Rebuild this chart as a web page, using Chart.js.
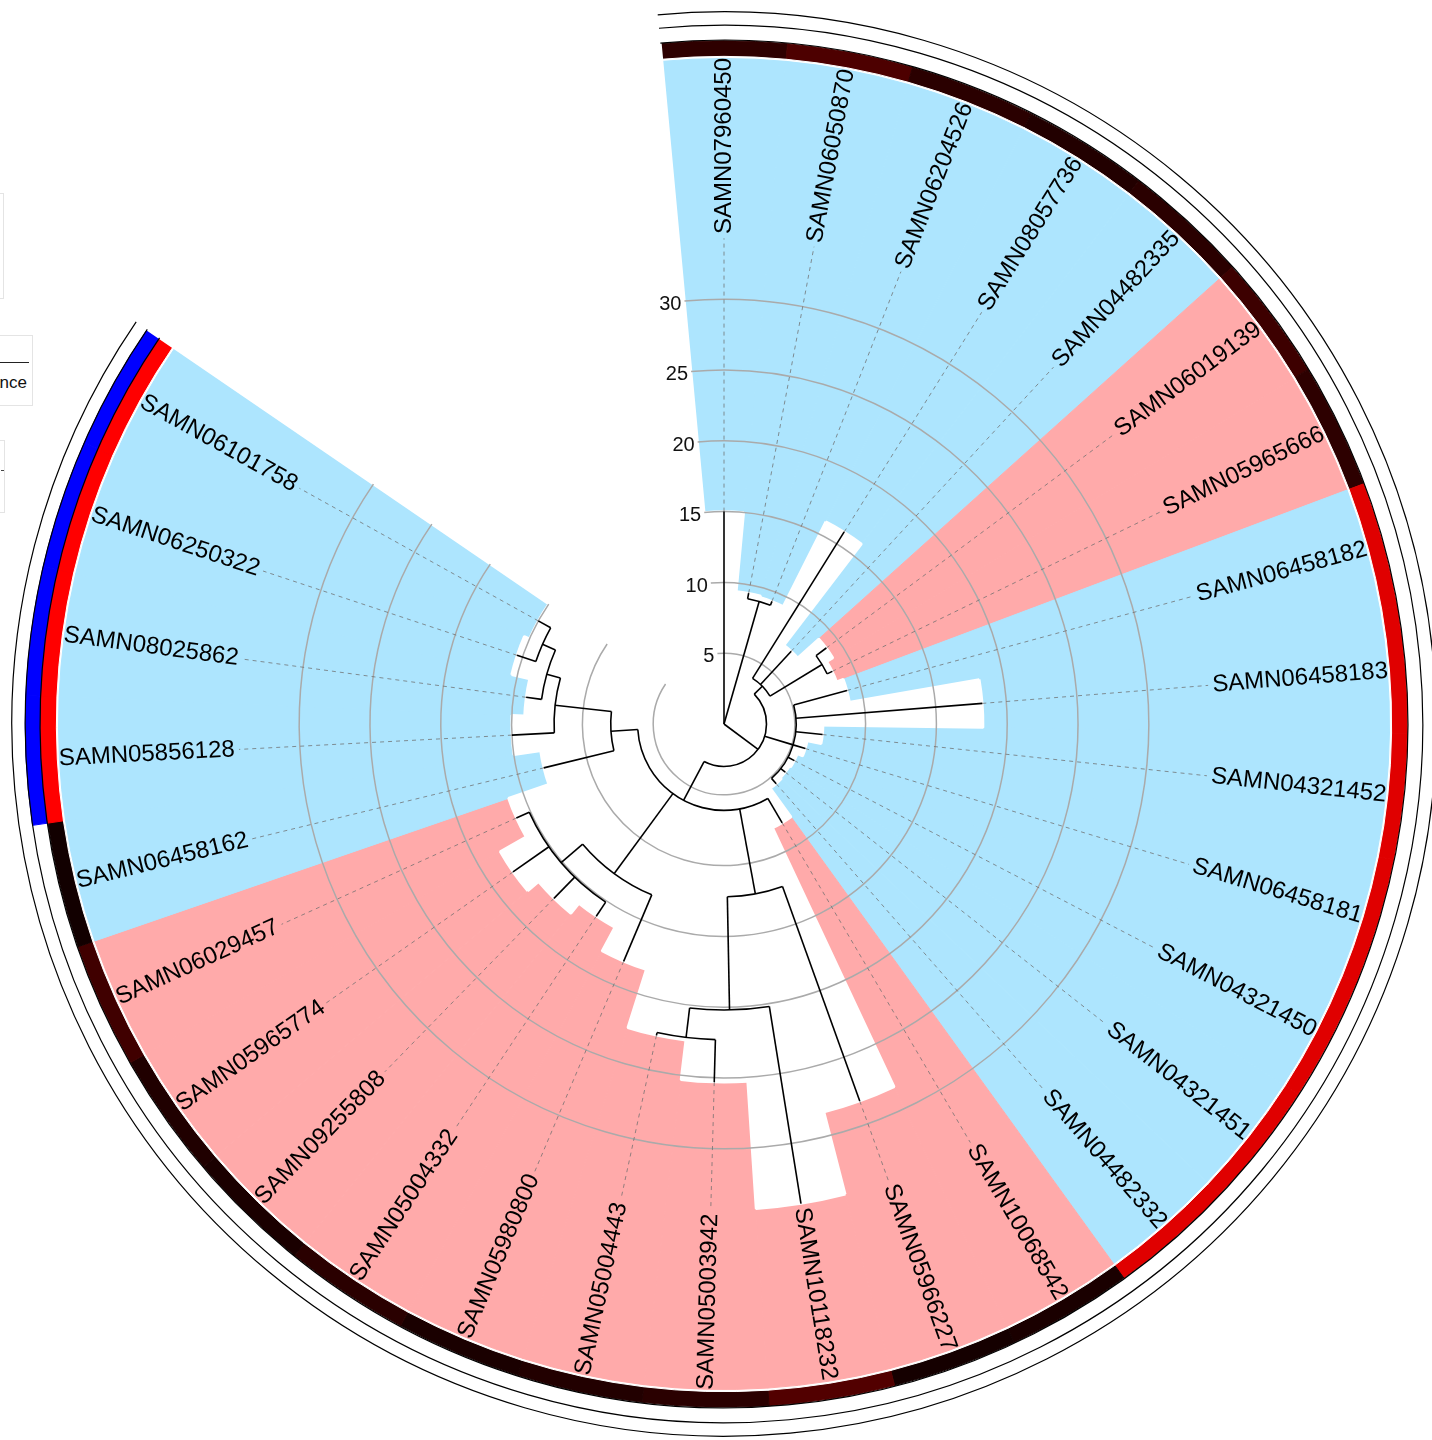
<!DOCTYPE html>
<html>
<head>
<meta charset="utf-8">
<title>Circular tree</title>
<script src="https://cdn.jsdelivr.net/npm/chart.js@4.4.1/dist/chart.umd.min.js"></script>
<style>
  html, body { margin: 0; padding: 0; background: #fff; overflow: hidden; }
  #wrap { position: relative; width: 1432px; height: 1440px; }
  #tree { position: absolute; left: 0; top: 0; }
  .legend-box {
    position: absolute;
    border: 1px solid #e4e4e4;
    background: #fff;
    font-family: "Liberation Sans", Arial, sans-serif;
  }
</style>
</head>
<body>
<div id="wrap">
  <canvas id="tree" width="1432" height="1440"></canvas>
  <div class="legend-box" style="left:-200px;top:193px;width:202px;height:104px"></div>
  <div class="legend-box" style="left:-160px;top:335px;width:191px;height:69px">
    <div style="position:absolute;left:0;right:3px;top:26px;border-top:1px solid #222"></div>
    <div style="position:absolute;right:5px;top:37px;font-size:17px;color:#111;white-space:nowrap">Tree distance</div>
  </div>
  <div class="legend-box" style="left:-160px;top:440px;width:163px;height:71px">
    <div style="position:absolute;right:0;top:29px;width:3px;border-top:1px solid #444"></div>
  </div>
</div>
<script>
const sampleNames = [
  "SAMN07960450", "SAMN06050870", "SAMN06204526", "SAMN08057736", "SAMN04482335",
  "SAMN06019139", "SAMN05965666", "SAMN06458182", "SAMN06458183", "SAMN04321452",
  "SAMN06458181", "SAMN04321450", "SAMN04321451", "SAMN04482332", "SAMN10068542",
  "SAMN05966227", "SAMN10118232", "SAMN05003942", "SAMN05004443", "SAMN05980800",
  "SAMN05004332", "SAMN09255808", "SAMN05965774", "SAMN06029457", "SAMN06458162",
  "SAMN05856128", "SAMN08025862", "SAMN06250322", "SAMN06101758",
];
const sampleGroup = [
  "b", "b", "b", "b", "b", "p", "p", "b", "b", "b", "b", "b", "b", "b", "p",
  "p", "p", "p", "p", "p", "p", "p", "p", "p", "b", "b", "b", "b", "b",
];
// branch tip of each sample, in tree distance units
const tipDepth = [
  15.0, 9.4, 9.3, 16.0, 7.0, 9.0, 8.5, 9.0, 18.3, 7.0, 6.0, 5.6, 5.5, 5.6, 8.1,
  28.3, 34.3, 25.3, 22.5, 18.2, 16.3, 17.2, 18.2, 16.1, 13.1, 15.0, 14.1, 15.4, 15.0,
];
const leafParent = [
  "root", "N23", "N23", "B", "B", "N67", "N67", "D", "D", "D", "D", "D", "D", "D", "C",
  "G", "I", "J", "J", "H", "K", "K", "K", "K", "F", "L", "M", "N", "N",
];
const nodeNames = ["root", "N23", "A", "B", "N67", "D", "C", "G", "I", "J", "H", "K", "F", "L", "M", "N"];
const nodeParent = [null, "root", "root", "A", "B", "A", "A", "C", "G", "I", "C", "H", "C", "F", "L", "M"];
const nodeDepth = [0, 9.0, 3.0, 3.8, 8.1, 5.1, 6.1, 12.2, 20.2, 22.3, 13.1, 15.1, 8.0, 12.0, 13.0, 14.0];

const ringOneColors = [
  "#2e0000", "#4d0000", "#2a0000", "#220000", "#2a0000", "#3d0000", "#2d0000",
  "#e00000", "#e00000", "#e00000", "#e00000", "#e00000", "#e00000", "#e00000",
  "#1a0000", "#150000", "#520000", "#2a0000", "#220000", "#1a0000", "#2a0000",
  "#1a0000", "#200000", "#400000", "#120000",
  "#ff0000", "#ff0000", "#ff0000", "#ff0000",
];
const ringTwoColors = [
  ...Array(25).fill("rgba(0,0,0,0)"),
  "#0000ff", "#0000ff", "#0000ff", "#0000ff",
];
const tickValues = [5, 10, 15, 20, 25, 30];

const GROUP_COLORS = { b: "#ade5fe", p: "#ffaaaa" };
const CLEAR = "rgba(0,0,0,0)";
const LEAF_STEP = 10.68;
const GAP_INDEX = sampleNames.length;
const GAP_COVER = 51;
const SECTOR_OUTER = 47.0;
const WHITE_GAP = 47.15;
const RING_ONE = 48.25;
const RING_TWO = 49.35;
const LABEL_R = 34.6;
const FONT = '"Liberation Sans", Arial, sans-serif';

const withGap = (arr, last) => [...arr, last];
const filled = (v) => withGap(sampleNames.map(() => v), 0);

const treeLayers = {
  id: "treeLayers",
  afterDatasetsDraw(chart) {
    const ctx = chart.ctx;
    const scale = chart.scales.r;
    const cx = scale.xCenter;
    const cy = scale.yCenter;
    const rad = (v) => scale.getDistanceFromCenterForValue(v);
    const arcs = chart.getDatasetMeta(0).data;
    const leafAngle = sampleNames.map((_, i) => (arcs[i].startAngle + arcs[i].endAngle) / 2);
    const spanStart = arcs[0].startAngle;
    const spanEnd = arcs[GAP_INDEX - 1].endAngle;

    ctx.save();

    // grid circles, only over the samples
    ctx.strokeStyle = "#aaaaaa";
    ctx.lineWidth = 1.5;
    scale.ticks.forEach((t) => {
      ctx.beginPath();
      ctx.arc(cx, cy, rad(t.value), spanStart, spanEnd);
      ctx.stroke();
    });

    // dashed leaders from branch tip to label
    ctx.strokeStyle = "rgba(110,110,110,0.75)";
    ctx.lineWidth = 1;
    ctx.setLineDash([4, 4]);
    sampleNames.forEach((_, i) => {
      const a = leafAngle[i];
      const r0 = rad(tipDepth[i]);
      const r1 = rad(LABEL_R - 0.3);
      if (r1 <= r0) return;
      ctx.beginPath();
      ctx.moveTo(cx + r0 * Math.cos(a), cy + r0 * Math.sin(a));
      ctx.lineTo(cx + r1 * Math.cos(a), cy + r1 * Math.sin(a));
      ctx.stroke();
    });
    ctx.setLineDash([]);

    // dendrogram
    const children = {};
    nodeNames.forEach((n) => (children[n] = []));
    nodeNames.forEach((n, i) => {
      if (nodeParent[i]) children[nodeParent[i]].push({ node: n, depth: nodeDepth[i] });
    });
    leafParent.forEach((p, i) => children[p].push({ leaf: i, depth: tipDepth[i] }));

    const nodeAngle = {};
    const angleOf = (c) => (c.leaf !== undefined ? leafAngle[c.leaf] : computeNode(c.node));
    const computeNode = (name) => {
      if (nodeAngle[name] === undefined) {
        const angs = children[name].map(angleOf);
        nodeAngle[name] = (Math.min(...angs) + Math.max(...angs)) / 2;
      }
      return nodeAngle[name];
    };
    computeNode("root");

    ctx.strokeStyle = "#000";
    ctx.lineWidth = 1.6;
    nodeNames.forEach((name, i) => {
      const r = rad(nodeDepth[i]);
      const angs = children[name].map(angleOf);
      if (nodeDepth[i] > 0) {
        ctx.beginPath();
        ctx.arc(cx, cy, r, Math.min(...angs), Math.max(...angs));
        ctx.stroke();
      }
      children[name].forEach((c) => {
        const a = angleOf(c);
        const r1 = rad(c.depth);
        ctx.beginPath();
        ctx.moveTo(cx + r * Math.cos(a), cy + r * Math.sin(a));
        ctx.lineTo(cx + r1 * Math.cos(a), cy + r1 * Math.sin(a));
        ctx.stroke();
      });
    });

    // outline circles of the outer layers
    ctx.lineWidth = 1.2;
    [48.3, RING_TWO, 50.3].forEach((v) => {
      ctx.beginPath();
      ctx.arc(cx, cy, rad(v), spanStart, spanEnd);
      ctx.stroke();
    });

    // sample labels
    ctx.fillStyle = "#000";
    ctx.font = "24px " + FONT;
    ctx.textBaseline = "middle";
    const labelR = rad(LABEL_R);
    sampleNames.forEach((name, i) => {
      const a = leafAngle[i];
      const compass = (((a + Math.PI / 2) * 180) / Math.PI) % 360;
      ctx.save();
      ctx.translate(cx, cy);
      ctx.rotate(a);
      if (compass < 180) {
        ctx.textAlign = "left";
        ctx.fillText(name, labelR, 0);
      } else {
        ctx.rotate(Math.PI);
        ctx.textAlign = "right";
        ctx.fillText(name, -labelR, 0);
      }
      ctx.restore();
    });

    // axis tick labels at the start of each grid circle
    ctx.font = "20px " + FONT;
    ctx.textAlign = "right";
    ctx.fillStyle = "#111";
    scale.ticks.forEach((t) => {
      const r = rad(t.value);
      ctx.fillText(String(t.value), cx + r * Math.cos(spanStart) - 3, cy + r * Math.sin(spanStart) + 3);
    });

    ctx.restore();
  },
};

const treeChart = new Chart(document.querySelector("#tree"), {
  type: "polarArea",
  data: {
    labels: withGap(sampleNames, ""),
    datasets: [
      {
        label: "branch",
        data: withGap(tipDepth, GAP_COVER),
        backgroundColor: "#ffffff",
        borderColor: "#ffffff",
        borderWidth: 2.5,
      },
      {
        label: "group",
        data: filled(SECTOR_OUTER),
        backgroundColor: withGap(sampleGroup.map((g) => GROUP_COLORS[g]), CLEAR),
        borderColor: withGap(sampleGroup.map((g) => GROUP_COLORS[g]), CLEAR),
      },
      {
        label: "spacer",
        data: filled(WHITE_GAP),
        backgroundColor: "#ffffff",
        borderColor: "#ffffff",
      },
      {
        label: "layer 1",
        data: filled(RING_ONE),
        backgroundColor: withGap(ringOneColors, CLEAR),
        borderColor: withGap(ringOneColors, CLEAR),
      },
      {
        label: "layer 2",
        data: filled(RING_TWO),
        backgroundColor: withGap(ringTwoColors, CLEAR),
        borderColor: withGap(ringTwoColors, CLEAR),
      },
    ],
  },
  options: {
    responsive: false,
    animation: false,
    events: [],
    layout: { padding: { left: 16, top: 8, right: 0, bottom: 0 } },
    elements: {
      arc: {
        angle: (c) => (c.dataIndex === GAP_INDEX ? 360 - LEAF_STEP * GAP_INDEX : LEAF_STEP),
        borderWidth: (c) => (c.dataIndex === GAP_INDEX ? 0 : 1),
      },
    },
    scales: {
      r: {
        min: 0,
        max: 50,
        startAngle: -LEAF_STEP / 2,
        afterBuildTicks: (s) => {
          s.ticks = tickValues.map((v) => ({ value: v }));
        },
        ticks: { display: false },
        grid: { display: false },
        angleLines: { display: false },
        pointLabels: { display: false },
      },
    },
    plugins: {
      legend: { display: false },
      tooltip: { enabled: false },
    },
  },
  plugins: [treeLayers],
});
</script>
</body>
</html>
